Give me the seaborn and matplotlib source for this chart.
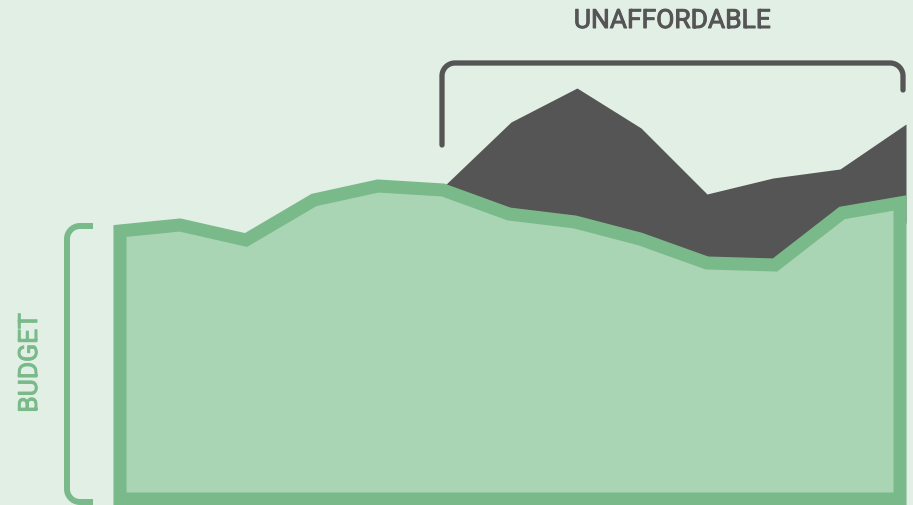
import numpy as np
import matplotlib.pyplot as plt
import matplotlib.patheffects as pe
import seaborn as sns
from matplotlib.patches import Polygon

# dados (x em px, valores = altura acima da base)
budget_x = [120, 180, 246, 314, 378, 443, 509, 575, 640, 707, 775, 842, 900]
budget = [268, 274, 259, 299, 313, 309, 285, 277, 260, 236, 234, 286, 296]
cost_x = [443, 511, 577, 641, 707, 773, 840, 906]
cost = [312, 377, 411, 371, 305, 321, 330, 375]

bg = "#e2efe5"
green = "#7aba8a"
green_fill = "#aad5b5"
grey = "#555555"

sns.set_theme(style="white", rc={"axes.facecolor": bg, "figure.facecolor": bg})
plt.rcParams["font.family"] = ["Roboto", "DejaVu Sans"]

fig = plt.figure(figsize=(9.13, 5.06), dpi=100)
ax = fig.add_axes([0, 0, 1, 1])
ax.set_xlim(0, 913)
ax.set_ylim(-6, 500)
ax.axis("off")

# area acima do orçamento (cinza)
base = np.interp(cost_x, budget_x, budget)
ax.fill_between(cost_x, base - 20, cost, color=grey, lw=0)

# orçamento
pts = list(zip(budget_x, budget)) + [(budget_x[-1], 0), (budget_x[0], 0)]
poly = Polygon(pts, closed=True, facecolor=green_fill, edgecolor=green,
               lw=9.4, joinstyle="miter")
ax.add_patch(poly)


def arc(cx, cy, r, a0, a1):
    t = np.radians(np.linspace(a0, a1, 20))
    return list(cx + r * np.cos(t)), list(cy + r * np.sin(t))


r = 13
# colchete do orçamento
lx, top, bot = 67, 273, -3
ax1, ay1 = arc(lx + r, top - r, r, 90, 180)
ax2, ay2 = arc(lx + r, bot + r, r, 180, 270)
xs = [93] + ax1 + ax2 + [93]
ys = [top] + ay1 + ay2 + [bot]
ax.plot(xs, ys, color=green, lw=4.3, solid_capstyle="butt")

# colchete "unaffordable"
x0, x1, ty = 442, 903, 436
bx1, by1 = arc(x0 + r, ty - r, r, 180, 90)
bx2, by2 = arc(x1 - r, ty - r, r, 90, 0)
xs = [x0] + bx1 + bx2 + [x1]
ys = [354] + by1 + by2 + [409]
ax.plot(xs, ys, color=grey, lw=3.8, solid_capstyle="round")

t1 = ax.text(672, 478, "UNAFFORDABLE", color=grey, fontsize=19,
             ha="center", va="center")
t1.set_path_effects([pe.withStroke(linewidth=0.7, foreground=grey)])
t2 = ax.text(30, 136, "BUDGET", color=green, fontsize=19,
             ha="center", va="center", rotation=90)
t2.set_path_effects([pe.withStroke(linewidth=0.7, foreground=green)])

fig.savefig("out.png", dpi=100, facecolor=bg)
